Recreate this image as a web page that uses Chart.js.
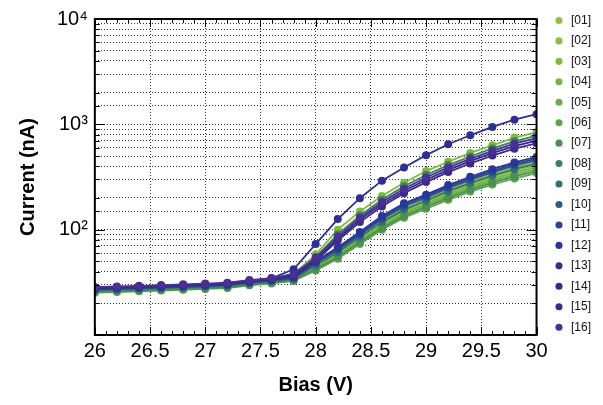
<!DOCTYPE html>
<html>
<head>
<meta charset="utf-8">
<script src="https://cdn.jsdelivr.net/npm/chart.js@4"></script>
<style>
  html, body { margin: 0; padding: 0; background: #fff; }
  #wrap { width: 603px; height: 405px; }
</style>
</head>
<body>
<div id="wrap"><canvas id="iv" width="603" height="405"></canvas></div>
<script>
// bias points (V)
const bias = [26, 26.2, 26.4, 26.6, 26.8, 27, 27.2, 27.4, 27.6, 27.8, 28, 28.2, 28.4, 28.6, 28.8, 29, 29.2, 29.4, 29.6, 29.8, 30];

// current per channel (nA)
const s01 = [26.5, 26.9, 27.3, 27.7, 28.2, 28.7, 29.3, 31, 32.4, 34.2, 47, 62, 87, 122, 160, 195, 240, 287, 338, 390, 440];
const s02 = [26.2, 26.6, 27, 27.4, 27.9, 28.4, 29, 30.6, 32, 33.8, 45, 59, 82, 114, 150, 182, 224, 268, 314, 362, 408];
const s03 = [27, 27.4, 27.8, 28.3, 28.8, 29.3, 30, 31.8, 33.3, 38, 58, 100, 149, 209, 279, 360, 441, 535, 632, 748, 840];
const s04 = [26, 26.4, 26.8, 27.2, 27.7, 28.2, 28.7, 30.4, 31.7, 33.5, 44, 58, 80, 110, 145, 176, 216, 258, 302, 348, 392];
const s05 = [25.8, 26.2, 26.6, 27, 27.4, 27.9, 28.5, 30.1, 31.5, 33.2, 43, 56, 78, 106, 140, 170, 208, 248, 290, 334, 376];
const s06 = [25.2, 25.6, 26, 26.4, 26.9, 27.4, 27.9, 29.6, 30.9, 32.6, 41, 53, 73, 100, 130, 158, 192, 230, 268, 306, 345];
const s07 = [25.5, 25.9, 26.3, 26.7, 27.2, 27.7, 28.2, 29.9, 31.2, 32.9, 42, 55, 76, 103, 135, 164, 200, 239, 279, 320, 360];
const s08 = [27, 27.4, 27.8, 28.2, 28.7, 29.2, 29.8, 31.5, 33, 37, 55, 90, 136, 192, 258, 330, 410, 495, 590, 690, 780];
const s09 = [26.5, 26.9, 27.3, 27.7, 28.2, 28.7, 29.2, 30.9, 32.3, 34, 46, 61, 85, 118, 155, 188, 232, 277, 326, 376, 424];
const s10 = [27, 27.4, 27.8, 28.2, 28.7, 29.2, 29.8, 31.5, 32.9, 34.8, 48, 64, 89, 126, 166, 201, 248, 297, 350, 405, 455];
const s11 = [27.2, 27.6, 28, 28.4, 28.9, 29.4, 30, 31.7, 33.1, 35, 49, 66, 92, 130, 172, 208, 256, 307, 362, 420, 472];
const s12 = [27.5, 27.9, 28.3, 28.7, 29.2, 29.7, 30.3, 32, 33.5, 35.5, 50, 68, 95, 135, 178, 215, 265, 318, 375, 435, 490];
const s13 = [28, 28.4, 28.8, 29.3, 29.8, 30.3, 31, 32.8, 34.5, 42, 73, 126, 199, 292, 390, 510, 647, 787, 944, 1107, 1250];
const s14 = [28, 28.4, 28.8, 29.3, 29.8, 30.3, 30.9, 32.7, 34.1, 37, 52, 82, 124, 174, 233, 298, 370, 447, 532, 620, 700];
const s15 = [28, 28.4, 28.8, 29.3, 29.8, 30.3, 30.9, 32.6, 34, 36.5, 50, 79, 118, 166, 222, 283, 352, 425, 505, 588, 660];
const s16 = [28.5, 28.9, 29.3, 29.8, 30.3, 30.8, 31.4, 33.2, 34.7, 38, 54, 86, 130, 183, 245, 313, 390, 470, 560, 655, 740];

const channelNames = ['[01]', '[02]', '[03]', '[04]', '[05]', '[06]', '[07]', '[08]', '[09]', '[10]', '[11]', '[12]', '[13]', '[14]', '[15]', '[16]'];
const channelColors = ['#8cc43f', '#85c03e', '#7dbb40', '#74b544', '#69ae48', '#5ca54c', '#4a9151', '#3e7e66',
                       '#356f72', '#2e5b80', '#28449a', '#2a3796', '#2f2f90', '#352a8c', '#3d2a8d', '#4a3090'];
const channelData = [s01, s02, s03, s04, s05, s06, s07, s08, s09, s10, s11, s12, s13, s14, s15, s16];

const yLabels = { 100: '10\u00b2', 1000: '10\u00b3', 10000: '10\u2074' };

const FONT = "'Liberation Sans', Arial, Helvetica, sans-serif";
const LEGEND_GAP = 6;

// frame + ticks pointing inwards, on all four sides
const frameTicks = {
    id: 'frameTicks',
    afterInit(chart) {
        // leave more room between the plot box and the legend
        const lg = chart.legend;
        const fit = lg.fit.bind(lg);
        lg.fit = function () { fit(); this.width += LEGEND_GAP; };
    },
    afterLayout(chart) {
        chart.legend.left += LEGEND_GAP + 2;
        chart.legend.right += LEGEND_GAP + 2;
    },
    afterDraw(chart) {
        const ctx = chart.ctx;
        const a = chart.chartArea;
        const xs = chart.scales.x;
        const ys = chart.scales.y;
        ctx.save();
        ctx.strokeStyle = '#000';
        ctx.lineWidth = 1;
        ctx.beginPath();
        for (let i = 0; i <= 40; i++) {
            const v = 26 + i * 0.1;
            const px = Math.round(xs.getPixelForValue(v)) + 0.5;
            const len = (i % 5 === 0) ? 8 : 4;
            ctx.moveTo(px, a.bottom); ctx.lineTo(px, a.bottom - len);
            ctx.moveTo(px, a.top); ctx.lineTo(px, a.top + len);
        }
        ys.ticks.forEach(t => {
            const py = Math.round(ys.getPixelForValue(t.value)) + 0.5;
            const major = Math.abs(Math.log10(t.value) - Math.round(Math.log10(t.value))) < 1e-6;
            const len = major ? 10 : 5;
            ctx.moveTo(a.left, py); ctx.lineTo(a.left + len, py);
            ctx.moveTo(a.right, py); ctx.lineTo(a.right - len, py);
        });
        ctx.stroke();
        ctx.lineWidth = 2;
        ctx.strokeRect(a.left, a.top, a.right - a.left, a.bottom - a.top);
        ctx.restore();
    }
};

const datasets = channelData.map((vals, i) => ({
    label: channelNames[i],
    data: vals.map((v, k) => ({ x: bias[k], y: v })),
    borderColor: channelColors[i],
    backgroundColor: channelColors[i],
    pointBackgroundColor: channelColors[i],
    pointBorderColor: channelColors[i],
    pointRadius: 4,
    pointBorderWidth: 0,
    borderWidth: 1.8,
    tension: 0,
    clip: 0,
    order: channelData.length - i
}));

new Chart(document.getElementById('iv'), {
    type: 'line',
    data: { datasets: datasets },
    plugins: [frameTicks],
    options: {
        responsive: false,
        animation: false,
        layout: { padding: { top: 6, right: 4, left: 12, bottom: 4 } },
        plugins: {
            legend: {
                position: 'right',
                align: 'start',
                labels: {
                    usePointStyle: true,
                    pointStyle: 'circle',
                    boxHeight: 5,
                    padding: 8.45,
                    color: '#111',
                    font: { family: FONT, size: 12 },
                    sort: (p, q) => p.datasetIndex - q.datasetIndex
                }
            },
            tooltip: { enabled: false }
        },
        scales: {
            x: {
                type: 'linear',
                min: 26,
                max: 30,
                ticks: {
                    stepSize: 0.5,
                    color: '#000',
                    font: { family: FONT, size: 20 },
                    padding: 4,
                    maxRotation: 0,
                    callback: (v) => String(Math.round(v * 10) / 10)
                },
                grid: {
                    color: (c) => (c.tick && (c.tick.value === 26 || c.tick.value === 30)) ? 'rgba(0,0,0,0)' : '#333',
                    lineWidth: 1,
                    drawTicks: false
                },
                border: { display: false, dash: [1, 2] },
                title: {
                    display: true,
                    text: 'Bias (V)',
                    color: '#000',
                    font: { family: FONT, size: 20, weight: 'bold' },
                    padding: { top: 6 }
                }
            },
            y: {
                type: 'logarithmic',
                min: 10,
                max: 10000,
                ticks: {
                    autoSkip: false,
                    color: '#000',
                    font: { family: FONT, size: 20 },
                    padding: 7,
                    callback: (v) => yLabels[v] || ''
                },
                grid: {
                    color: (c) => (c.tick && (c.tick.value === 10 || c.tick.value === 10000)) ? 'rgba(0,0,0,0)' : '#333',
                    lineWidth: 1,
                    drawTicks: false
                },
                border: { display: false, dash: [1, 2] },
                title: {
                    display: true,
                    text: 'Current (nA)',
                    color: '#000',
                    font: { family: FONT, size: 20, weight: 'bold' },
                    padding: { bottom: 10 }
                }
            }
        }
    }
});
</script>
</body>
</html>
